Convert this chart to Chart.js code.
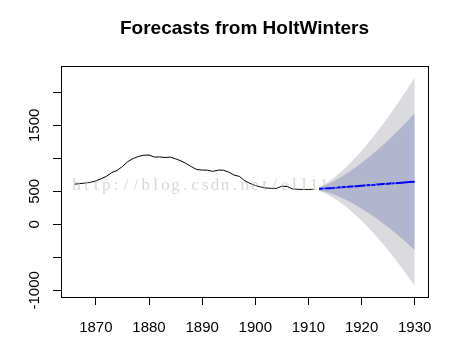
<!DOCTYPE html>
<html>
<head>
<meta charset="utf-8">
<script src="https://cdn.jsdelivr.net/npm/chart.js@4/dist/chart.umd.min.js"></script>
<style>
  html, body { margin: 0; padding: 0; background: #fff; }
  #wrap { width: 450px; height: 349px; }
</style>
</head>
<body>
<div id="wrap"><canvas id="hwChart"></canvas></div>
<script>
// observed series, 1866-1911
const obsYears = [];
for (let y = 1866; y <= 1911; y++) obsYears.push(y);
const obsValues = [608, 617, 625, 636, 657, 691, 728, 784, 816, 876,
  949, 997, 1027, 1047, 1049, 1018, 1021, 1012, 1018, 991,
  962, 921, 871, 829, 822, 820, 802, 821, 819, 791,
  746, 726, 661, 620, 588, 566, 550, 545, 545, 578,
  572, 535, 530, 528, 528, 530];

// forecast, 1912-1930
const fcYears = [];
for (let y = 1912; y <= 1930; y++) fcYears.push(y);
const fcMean = [535, 541, 547, 553, 560, 566, 572, 578, 584, 590, 597, 603, 609, 615, 621, 627, 634, 640, 646];
const lo80 = [514, 497, 473, 443, 410, 372, 330, 285, 237, 186, 133, 76, 16, -45, -110, -176, -244, -316, -389];
const hi80 = [556, 585, 621, 663, 710, 760, 814, 871, 931, 994, 1061, 1130, 1202, 1275, 1352, 1430, 1512, 1596, 1681];
const lo95 = [503, 474, 433, 385, 331, 270, 203, 131, 54, -28, -112, -203, -296, -394, -496, -601, -708, -820, -935];
const hi95 = [567, 608, 661, 721, 789, 862, 941, 1025, 1114, 1208, 1306, 1409, 1514, 1624, 1738, 1855, 1976, 2100, 2227];

const xTicks = [1870, 1880, 1890, 1900, 1910, 1920, 1930];
const yTicks = [-1000, -500, 0, 500, 1000, 1500, 2000];
const yTickLabels = [-1000, 0, 500, 1500];
const titleText = "Forecasts from HoltWinters";
const watermark = "http://blog.csdn.net/ell114015624";

const pts = (xs, ys) => xs.map((x, i) => ({ x, y: ys[i] }));
const font = "Liberation Sans, Arial, sans-serif";

const band = (data, color, fill, order) => ({
  data, fill, order,
  backgroundColor: color,
  borderWidth: 0,
  pointRadius: 0,
  tension: 0
});

const decor = {
  id: "decor",
  afterDatasetsDraw(chart) {
    const { ctx } = chart;
    ctx.save();
    ctx.font = "17px 'Liberation Serif', serif";
    ctx.fillStyle = "rgba(190,190,190,0.6)";
    ctx.textBaseline = "alphabetic";
    ctx.textAlign = "center";
    // half-width glyph grid like the original watermark
    [...watermark].forEach((ch, i) => ctx.fillText(ch, 76.5 + i * 9.9, 190));
    ctx.restore();
  },
  afterDraw(chart) {
    const { ctx, chartArea: a, scales } = chart;
    ctx.save();
    // box
    ctx.strokeStyle = "#000";
    ctx.lineWidth = 1;
    ctx.strokeRect(a.left + 0.5, a.top + 0.5, a.right - a.left, a.bottom - a.top);
    // title
    ctx.fillStyle = "#000";
    ctx.font = "bold 19px " + font;
    ctx.textAlign = "center";
    ctx.textBaseline = "middle";
    ctx.fillText(titleText, (a.left + a.right) / 2, 29);
    // rotated y labels
    ctx.font = "15px " + font;
    yTickLabels.forEach(v => {
      const py = scales.y.getPixelForValue(v);
      ctx.save();
      ctx.translate(35, py);
      ctx.rotate(-Math.PI / 2);
      ctx.fillText(String(v), 0, 0);
      ctx.restore();
    });
    ctx.restore();
  }
};

new Chart(document.getElementById("hwChart"), {
  type: "line",
  data: {
    datasets: [
      band(pts(fcYears, lo95), "#dbdbdf", false, 6),
      band(pts(fcYears, hi95), "#dbdbdf", "-1", 5),
      band(pts(fcYears, lo80), "#b1b5ce", false, 4),
      band(pts(fcYears, hi80), "#b1b5ce", "-1", 3),
      {
        data: pts(fcYears, fcMean), order: 2,
        borderColor: "#0000ff", borderWidth: 2, pointRadius: 0, fill: false, tension: 0
      },
      {
        data: pts(obsYears, obsValues), order: 1,
        borderColor: "#000", borderWidth: 1, pointRadius: 0, fill: false, tension: 0
      }
    ]
  },
  options: {
    responsive: true,
    maintainAspectRatio: false,
    animation: false,
    devicePixelRatio: 1,
    layout: { padding: { top: 66, right: 22, left: 0, bottom: 0 } },
    plugins: {
      legend: { display: false },
      title: { display: false },
      tooltip: { enabled: false }
    },
    scales: {
      x: {
        type: "linear",
        min: 1863.44,
        max: 1932.5,
        afterFit: s => { s.height = 52; s.paddingLeft = 0; s.paddingRight = 0; },
        afterBuildTicks: s => { s.ticks = xTicks.map(v => ({ value: v })); },
        border: { display: false },
        grid: { drawOnChartArea: false, drawTicks: true, tickLength: 8, color: "#000" },
        ticks: {
          color: "#000",
          font: { family: font, size: 15 },
          padding: 14,
          maxRotation: 0,
          callback: v => String(v)
        }
      },
      y: {
        min: -1101,
        max: 2398,
        afterFit: s => { s.width = 61; },
        afterBuildTicks: s => { s.ticks = yTicks.map(v => ({ value: v })); },
        border: { display: false },
        grid: { drawOnChartArea: false, drawTicks: true, tickLength: 8, color: "#000" },
        ticks: { display: false }
      }
    }
  },
  plugins: [decor]
});
</script>
</body>
</html>
